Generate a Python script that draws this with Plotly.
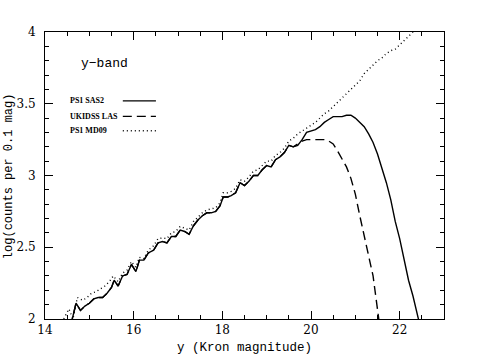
"""
    Number counts per 0.1 mag in the y band for three surveys.
"""

import plotly.graph_objects as go

# PS1 SAS2 (solid)
sas2_mag = [14.5, 14.62, 14.7, 14.8, 14.9, 15.0, 15.1, 15.2, 15.3, 15.4, 15.5, 15.56, 15.65,
            15.75, 15.85, 15.95, 16.05, 16.13, 16.23, 16.33, 16.45, 16.55, 16.65, 16.75,
            16.85, 16.95, 17.05, 17.15, 17.25, 17.35, 17.45, 17.55, 17.65, 17.75, 17.85,
            17.95, 18.02, 18.12, 18.2, 18.3, 18.4, 18.5, 18.6, 18.7, 18.8, 18.9, 19.0,
            19.1, 19.2, 19.3, 19.4, 19.5, 19.6, 19.7, 19.8, 19.9, 20.0, 20.1, 20.2, 20.3,
            20.4, 20.5, 20.6, 20.7, 20.8, 20.9, 21.0, 21.1, 21.2, 21.3, 21.4, 21.5, 21.6,
            21.7, 21.8, 21.9, 22.0, 22.1, 22.2, 22.3, 22.4, 22.5]
sas2_log = [1.85, 2.0, 2.11, 2.06, 2.09, 2.11, 2.14, 2.15, 2.15, 2.18, 2.22, 2.27, 2.23,
            2.30, 2.31, 2.38, 2.33, 2.41, 2.41, 2.46, 2.48, 2.53, 2.54, 2.53,
            2.575, 2.575, 2.62, 2.61, 2.59, 2.65, 2.69, 2.72, 2.74, 2.74, 2.75,
            2.79, 2.85, 2.85, 2.86, 2.88, 2.95, 2.93, 2.96, 3.00, 3.00, 3.04, 3.07,
            3.06, 3.11, 3.13, 3.16, 3.21, 3.20, 3.21, 3.25, 3.30, 3.31, 3.32, 3.34, 3.37,
            3.39, 3.41, 3.41, 3.41, 3.42, 3.42, 3.40, 3.37, 3.34, 3.29, 3.23, 3.15, 3.05,
            2.95, 2.83, 2.68, 2.56, 2.42, 2.27, 2.16, 2.03, 1.90]

# UKIDSS LAS (dashed), bright end overlaps SAS2
las_mag = sas2_mag[:52] + [19.6, 19.7, 19.8, 19.9, 20.0, 20.1, 20.2, 20.3, 20.4, 20.5,
                           20.6, 20.7, 20.8, 20.9, 21.0, 21.1, 21.2, 21.3, 21.4, 21.5, 21.55]
las_log = sas2_log[:52] + [3.20, 3.22, 3.24, 3.25, 3.25, 3.25, 3.25, 3.25, 3.24, 3.22,
                           3.17, 3.12, 3.06, 2.98, 2.87, 2.72, 2.57, 2.44, 2.30, 2.05, 1.95]

# PS1 MD09 (dotted)
md09_mag = [14.35, 14.42, 14.54, 14.63, 14.73, 14.85, 14.95, 15.05, 15.15, 15.25, 15.35,
            15.45, 15.54, 15.65, 15.75, 15.85, 15.95, 16.05, 16.13, 16.23, 16.33, 16.45,
            16.55, 16.65, 16.75, 16.85, 16.95, 17.05, 17.15, 17.25, 17.35, 17.45, 17.55,
            17.65, 17.75, 17.85, 17.95, 18.02, 18.12, 18.2, 18.3, 18.4, 18.5, 18.6, 18.7,
            18.8, 18.9, 19.0, 19.1, 19.2, 19.3, 19.4, 19.5, 19.6, 19.7, 19.8, 19.9, 20.0,
            20.1, 20.2, 20.3, 20.4, 20.5, 20.6, 20.7, 20.8, 20.9, 21.0, 21.1, 21.2, 21.3,
            21.4, 21.5, 21.6, 21.7, 21.8, 21.9, 22.0, 22.1, 22.2, 22.3, 22.4]
md09_log = [1.95, 2.0, 2.07, 2.0, 2.15, 2.13, 2.15, 2.18, 2.19, 2.21, 2.23,
            2.26, 2.30, 2.26, 2.32, 2.34, 2.40, 2.36, 2.43, 2.42, 2.48, 2.51,
            2.56, 2.565, 2.56, 2.60, 2.61, 2.645, 2.635, 2.62, 2.68, 2.71, 2.74,
            2.76, 2.77, 2.775, 2.81, 2.88, 2.88, 2.89, 2.91, 2.97, 2.96, 2.99, 3.03,
            3.04, 3.07, 3.10, 3.10, 3.14, 3.16, 3.19, 3.24, 3.26, 3.29, 3.31, 3.33, 3.35,
            3.37, 3.40, 3.43, 3.45, 3.48, 3.51, 3.54, 3.57, 3.60, 3.63, 3.66, 3.71, 3.74,
            3.77, 3.80, 3.82, 3.85, 3.87, 3.88, 3.91, 3.94, 3.97, 4.0, 4.03]

series_names = ["PS1 SAS2", "UKIDSS LAS", "PS1 MD09"]
series_dash = ["solid", "9px,5px", "1px,3px"]

MONO = "Liberation Mono, Courier New, monospace"
SERIF = "DejaVu Serif, Liberation Serif, serif"
TIMES = "Liberation Serif, Times New Roman, serif"

fig = go.Figure()
for name, xs, ys, dash in zip(series_names, [sas2_mag, las_mag, md09_mag],
                              [sas2_log, las_log, md09_log], series_dash):
    fig.add_trace(go.Scatter(x=xs, y=ys, mode="lines", name=name, hoverinfo="skip",
                             line=dict(color="black", width=1.4, dash=dash)))

# empty trace so the top/right tick axes get drawn
fig.add_trace(go.Scatter(x=[None], y=[None], xaxis="x2", yaxis="y2",
                         showlegend=False, hoverinfo="skip"))

# hand-made legend: label on the left, line sample on the right
for i, (name, dash) in enumerate(zip(series_names, series_dash)):
    ypos = [0.760, 0.706, 0.656][i]
    fig.add_annotation(x=0.057, y=ypos, xref="paper", yref="paper", text="<b>" + name + "</b>",
                       showarrow=False, xanchor="left", yanchor="middle",
                       font=dict(family=TIMES, size=8, color="black"))
    fig.add_shape(type="line", xref="paper", yref="paper", x0=0.195, x1=0.278,
                  y0=ypos, y1=ypos, line=dict(color="black", width=1.4, dash=dash))

fig.add_annotation(x=0.085, y=0.889, xref="paper", yref="paper", text="y−band",
                   showarrow=False, xanchor="left", yanchor="middle",
                   font=dict(family=MONO, size=13, color="black"))

# axis titles as annotations so the plot area stays put
fig.add_annotation(x=0.499, y=-0.101, xref="paper", yref="paper", text="y (Kron magnitude)",
                   showarrow=False, xanchor="center", yanchor="middle",
                   font=dict(family=MONO, size=12.5, color="black"))
fig.add_annotation(x=-0.090, y=0.498, xref="paper", yref="paper",
                   text="log(counts per 0.1 mag)", textangle=-90,
                   showarrow=False, xanchor="center", yanchor="middle",
                   font=dict(family=MONO, size=12, color="black"))

tick_style = dict(ticks="inside", ticklen=8, tickcolor="black", showline=True,
                  linecolor="black", mirror=True, gridcolor="white")

fig.update_layout(
    template="none", width=485, height=364, showlegend=False,
    font=dict(family=SERIF, size=12, color="black"),
    margin=dict(l=45, r=41, t=32, b=45),
    plot_bgcolor="white", paper_bgcolor="white",
    xaxis=dict(range=[14, 23], dtick=2,
               minor=dict(ticks="inside", ticklen=4, tickcolor="black", dtick=0.5),
               **tick_style),
    yaxis=dict(range=[2, 4], dtick=0.5, ticklabelstandoff=6,
               minor=dict(ticks="inside", ticklen=4, tickcolor="black", dtick=0.1),
               **tick_style),
    # top and right edges carry the same ticks, without labels
    xaxis2=dict(range=[14, 23], dtick=2, side="top", overlaying="x", anchor="y2",
                showticklabels=False, ticks="inside", ticklen=8, tickcolor="black",
                gridcolor="white",
                minor=dict(ticks="inside", ticklen=4, tickcolor="black", dtick=0.5)),
    yaxis2=dict(range=[2, 4], dtick=0.5, side="right", overlaying="y", anchor="x2",
                showticklabels=False, ticks="inside", ticklen=8, tickcolor="black",
                gridcolor="white",
                minor=dict(ticks="inside", ticklen=4, tickcolor="black", dtick=0.1)),
)
# the page's default body margin would shift the figure by 8px
fig.write_html("out.html", config={"displayModeBar": False},
               post_script="document.body.style.margin='0px';")
